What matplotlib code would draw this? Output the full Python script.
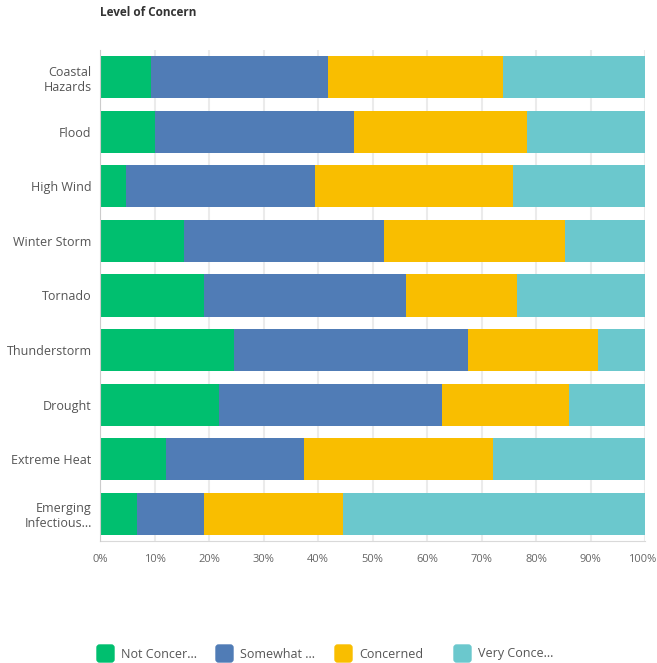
import matplotlib
matplotlib.use("Agg")
import matplotlib.pyplot as plt
from matplotlib.patches import FancyBboxPatch
from matplotlib.ticker import PercentFormatter
from matplotlib.transforms import ScaledTranslation

plt.rcParams['font.family'] = ['Open Sans', 'DejaVu Sans']

# hazards, top to bottom
categories = ["Coastal\nHazards", "Flood", "High Wind", "Winter Storm", "Tornado",
              "Thunderstorm", "Drought", "Extreme Heat", "Emerging\nInfectious..."]

series = ["Not Concer...", "Somewhat ...", "Concerned", "Very Conce..."]
not_concerned = [9.3, 10.1, 4.7, 15.4, 19.1, 24.5, 21.8, 12.2, 6.8]
somewhat = [32.5, 36.5, 34.7, 36.8, 37.0, 43.1, 41.0, 25.3, 12.3]
concerned = [32.2, 31.7, 36.4, 33.2, 20.5, 23.7, 23.2, 34.7, 25.4]
very = [26.0, 21.7, 24.2, 14.6, 23.4, 8.7, 14.0, 27.8, 55.5]

colors = ["#00bf6f", "#507cb6", "#f9be00", "#6bc8cd"]
text_col = "#555555"

W, H = 657, 663
fig = plt.figure(figsize=(W / 100, H / 100), dpi=100)
ax = fig.add_axes([100 / W, 122 / H, 545 / W, 491 / H])

y = list(range(len(categories)))
left = [0.0] * len(categories)
for vals, col in zip([not_concerned, somewhat, concerned, very], colors):
    ax.barh(y, vals, left=left, height=0.77, color=col, zorder=3)
    left = [l + v for l, v in zip(left, vals)]

ax.set_xlim(0, 100)
ax.set_ylim(8.5, -0.5)
ax.set_xticks(range(0, 101, 10))
ax.xaxis.set_major_formatter(PercentFormatter(decimals=0))
ax.set_yticks(y)
ax.set_yticklabels(categories)
ax.grid(axis="x", color="#ebebeb", linewidth=1.5, zorder=0)
ax.tick_params(axis="x", length=0, pad=9, labelsize=8, labelcolor="#666666")
ax.tick_params(axis="y", length=0, pad=6, labelsize=9, labelcolor=text_col)
for s in ["top", "right"]:
    ax.spines[s].set_visible(False)
ax.spines["left"].set_color("#cccccc")
ax.spines["bottom"].set_color("#d9d9d9")
ax.spines["left"].set_zorder(4)

# nudge "100%" left so it stays inside the figure
last = ax.xaxis.get_major_ticks()[-1].label1
last.set_transform(last.get_transform() + ScaledTranslation(-3 / 100, 0, fig.dpi_scale_trans))

fig.text(100 / W, 1 - 13 / H, "Level of Concern", fontsize=8.5, fontweight="bold",
         color="#333333", va="center", ha="left")

# legend drawn by hand so columns are evenly spaced
for i, (name, col) in enumerate(zip(series, colors)):
    x0 = 97 + 119 * i
    box = FancyBboxPatch((x0 / W, (H - 662) / H), 17 / W, 17 / H,
                         boxstyle="round,pad=0,rounding_size=0.004",
                         transform=fig.transFigure, color=col)
    fig.patches.append(box)
    fig.text((x0 + 24) / W, (H - 654) / H, name, fontsize=9, color=text_col,
             va="center", ha="left")

fig.savefig("out.png", dpi=100)
